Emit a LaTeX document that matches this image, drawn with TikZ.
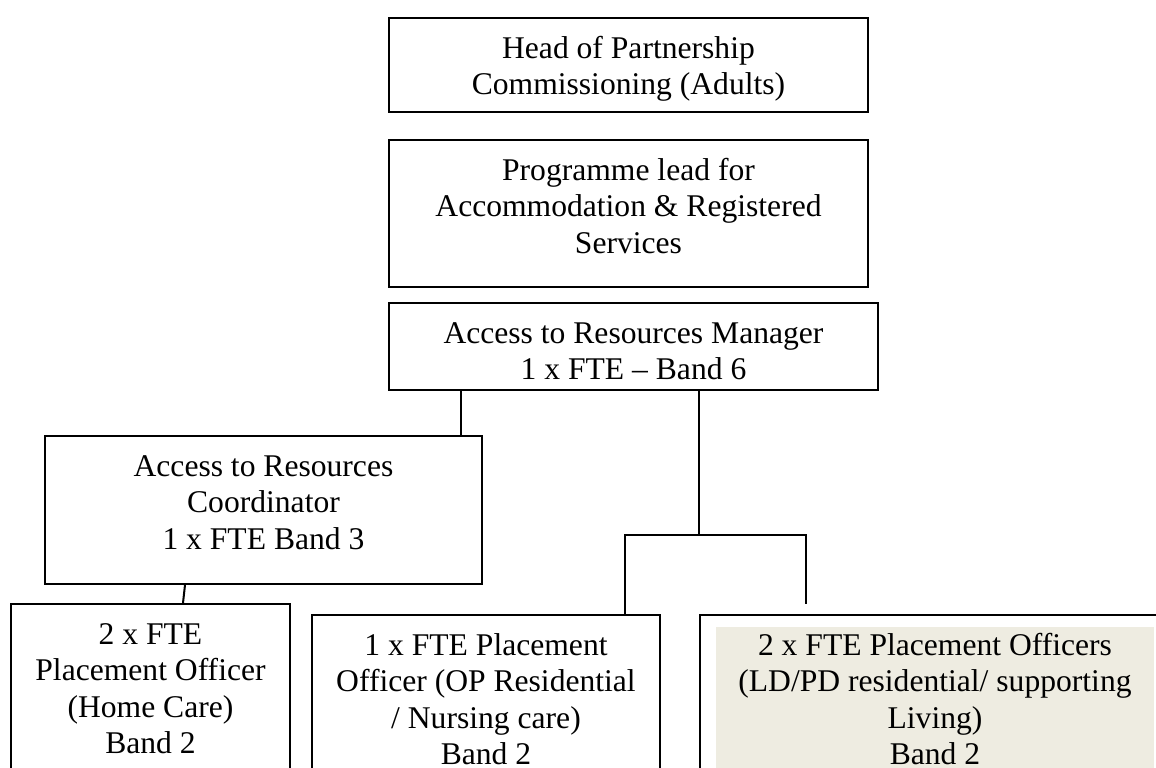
\documentclass[tikz,border=0pt]{standalone}
\usepackage{fontspec}
\setmainfont{Liberation Serif}
\usepackage{tikz}
\usetikzlibrary{calc}
\definecolor{beige}{HTML}{EEECE1}
\newlength\px
\setlength\px{0.5pt}
\newcommand{\posttext}[3]{\parbox[c][#2\px][t]{#1\px}{\centering\rule{0pt}{20pt}#3}}

\begin{document}
\begin{tikzpicture}[x=0.5pt,y=-0.5pt,line width=1pt,font=\fontsize{15.8}{18.3}\selectfont,
    post/.style={draw,inner sep=0pt,anchor=north west}]
    \useasboundingbox (0,0) rectangle (1156,767);
    \clip (0,0) rectangle (1156,767);

    \node[post] (head) at (388,17) {\posttext{479}{94}{Head of Partnership\\Commissioning (Adults)}};
    \node[post] (prog) at (388,139) {\posttext{479}{147}{Programme lead for\\Accommodation \& Registered\\Services}};
    \node[post] (mgr) at (388,302) {\posttext{489}{87}{Access to Resources Manager\\1 x FTE -- Band 6}};
    \node[post] (coord) at (44,435) {\posttext{437}{148}{Access to Resources\\Coordinator\\1 x FTE Band 3}};

    \node[post] (homecare) at (10,603) {\posttext{279}{220}{2 x FTE\\Placement Officer\\(Home Care)\\Band 2}};
    \node[post] (opres) at (311,614) {\posttext{348}{220}{1 x FTE Placement\\Officer (OP Residential\\/ Nursing care)\\Band 2}};
    \node[post,path picture={\fill[beige] ($(path picture bounding box.north west)+(16,12)$) rectangle ($(path picture bounding box.south east)+(-16,0)$);}]
        (ldpd) at (699,614) {\posttext{470}{220}{2 x FTE Placement Officers\\(LD/PD residential/ supporting\\Living)\\Band 2}};

    % connectors
    \coordinate (armL) at (461,0);
    \coordinate (split) at (699,535);
    \coordinate (barL) at (625,535);
    \coordinate (barR) at (806,535);
    \coordinate (barEnd) at (806,604);

    \draw (armL |- mgr.south) -- (armL |- coord.north);
    \draw (split |- mgr.south) -- (split);
    \draw (barL |- opres.north) -- (barL) -- (barR) -- (barEnd);
    \draw ($(coord.south west)+(141,0)$) -- ($(homecare.north west)+(173,0)$);
\end{tikzpicture}
\end{document}
